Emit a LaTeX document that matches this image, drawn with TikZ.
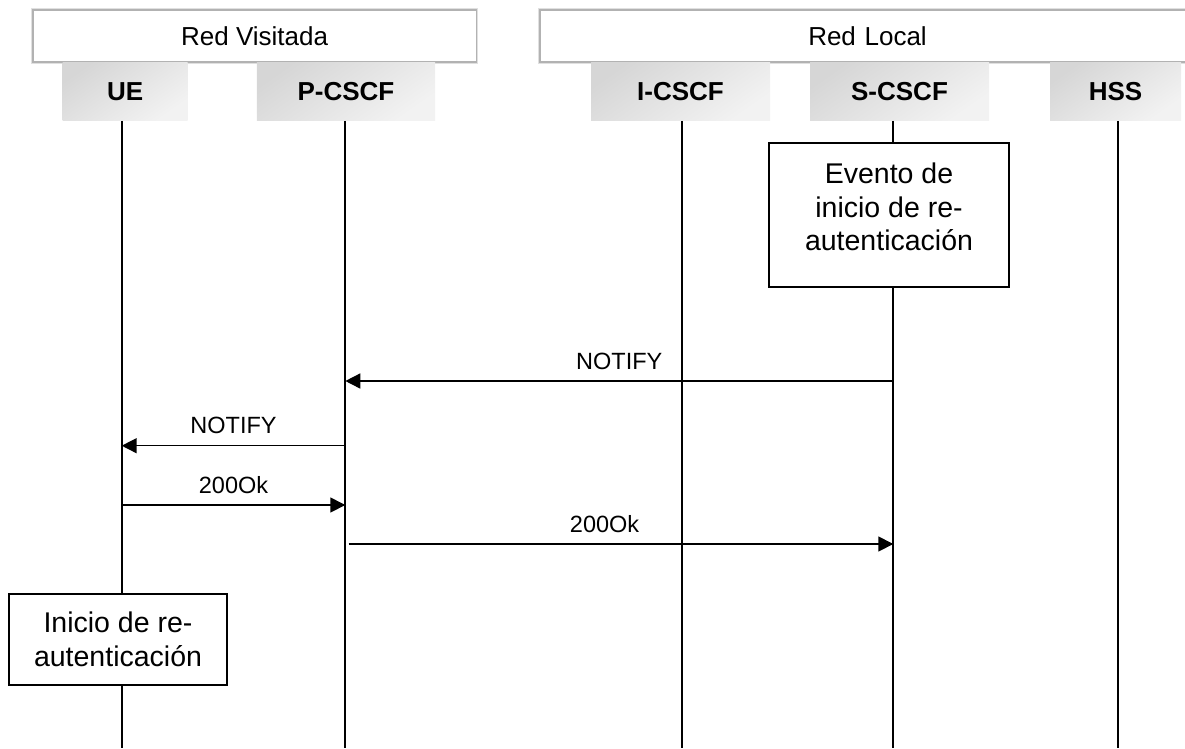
\documentclass[tikz,border=0pt]{standalone}
\usepackage{fontspec}
\setmainfont{Liberation Sans}
\usetikzlibrary{arrows.meta}
\begin{document}
\begin{tikzpicture}[x=1pt,y=-1pt,
  netbox/.style={preaction={draw=black!12, line width=3.4pt}, draw=black!30, line width=1.7pt,
    fill=white, minimum height=52pt, inner sep=0pt, font=\fontsize{26}{30}\selectfont},
  actor/.style={draw=none, inner sep=0pt, minimum height=58.7pt,
    top color=black!16, bottom color=black!5, shading angle=35,
    font=\fontsize{26}{30}\selectfont\bfseries},
  life/.style={line width=2pt, black},
  msg/.style={line width=1.5pt, -{Triangle[length=15pt,width=15pt]}},
  lbl/.style={anchor=base, yshift=12pt, inner sep=0pt, font=\fontsize{23.5}{27}\selectfont},
  evbox/.style={draw=black, line width=2pt, fill=white, inner sep=0pt},
  evtext/.style={align=center, inner sep=0pt, font=\fontsize{28.5}{33.5}\selectfont}
]
\useasboundingbox (0,0) rectangle (1185,748);

% network domains
\node[netbox, minimum width=443.8pt] (vis) at (254.6,36) {Red Visitada};
\node[netbox, minimum width=650pt, text width=650pt, align=center] (loc) at (865,36)
  {\hspace*{5pt}Red Local};

% participants
\node[actor, minimum width=125pt]   (ue) at (125.2,91.35) {UE};
\node[actor, minimum width=178.3pt] (pc) at (345.9,91.35) {P-CSCF};
\node[actor, minimum width=179pt]   (ic) at (680.5,91.35) {I-CSCF};
\node[actor, minimum width=179pt]   (sc) at (899.5,91.35) {S-CSCF};
\node[actor, minimum width=131pt]   (hs) at (1115.5,91.35) {HSS};

% lifeline ends
\coordinate (ueB) at (121.7,748);
\coordinate (pcB) at (345.3,748);
\coordinate (icB) at (682.2,748);
\coordinate (scB) at (893.3,748);
\coordinate (hsB) at (1117.7,748);

\draw[life] (ue.south -| ueB) -- (ueB);
\draw[life] (pc.south -| pcB) -- (pcB);
\draw[life] (ic.south -| icB) -- (icB);
\draw[life] (sc.south -| scB) -- (scB);
\draw[life] (hs.south -| hsB) -- (hsB);

% local actions
\node[evbox, minimum width=240pt, minimum height=144pt] (ev) at (889,215) {};
\node[evtext] (evt) at ([yshift=8pt]ev.center) {Evento de\\inicio de re-\\autenticación};

\node[evbox, minimum width=218pt, minimum height=91pt] (ini) at (118,639.5) {};
\node[evtext] (init) at (ini.center) {Inicio de re-\\autenticación};

% message points on the lifelines
\coordinate (sc1) at (893.3,381);
\coordinate (pc1) at (345.3,381);
\coordinate (pc2) at (345.3,445.7);
\coordinate (ue2) at (121.7,445.7);
\coordinate (ue3) at (121.7,505);
\coordinate (pc3) at (345.3,505);
\coordinate (pc4) at (348.5,544);
\coordinate (sc4) at (893.3,544);

% messages
\draw[msg] (sc1) -- node[lbl] {NOTIFY} (pc1);
\draw[msg] (pc2) -- node[lbl] {NOTIFY} (ue2);
\draw[msg] (ue3) -- node[lbl] {200Ok} (pc3);
\draw[msg] (pc4) -- node[lbl, pos=0.47] {200Ok} (sc4);
\end{tikzpicture}
\end{document}
